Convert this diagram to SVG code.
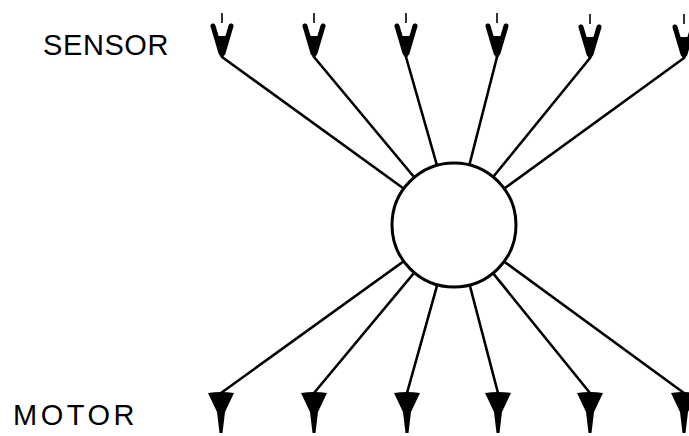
<svg xmlns="http://www.w3.org/2000/svg" width="689" height="436" viewBox="0 0 689 436">
<style>
.ln{stroke:#000;stroke-width:2.6;fill:none;stroke-linecap:round}
.arm{stroke:#000;stroke-width:5;fill:none;stroke-linecap:round}
.tick{stroke:#000;stroke-width:1.6}
.lbl{font-family:"Liberation Sans",Arial,sans-serif;font-size:29px;fill:#000}
</style>
<defs>
<g id="sensor">
<line class="tick" x1="0" y1="-44" x2="0" y2="-34"/>
<path class="arm" d="M-9,-31 L-1,-4 M9,-31 L1,-4"/>
<path d="M-7,-21 L7,-21 L1.5,0 L-1.5,0 Z" fill="#000"/>
</g>
<g id="motor">
<path d="M-13,0 Q0,-2 13,0 L4,19 L1.5,40 L-1.5,40 L-4,19 Z" fill="#000"/>
</g>
</defs>
<g id="connectors">
<line class="ln" x1="222" y1="57" x2="454" y2="225"/>
<line class="ln" x1="314" y1="57" x2="454" y2="225"/>
<line class="ln" x1="406" y1="57" x2="454" y2="225"/>
<line class="ln" x1="497" y1="57" x2="454" y2="225"/>
<line class="ln" x1="590" y1="58" x2="454" y2="225"/>
<line class="ln" x1="684" y1="58" x2="454" y2="225"/>
<line class="ln" x1="221" y1="393" x2="454" y2="225"/>
<line class="ln" x1="314" y1="393" x2="454" y2="225"/>
<line class="ln" x1="407" y1="393" x2="454" y2="225"/>
<line class="ln" x1="498" y1="393" x2="454" y2="225"/>
<line class="ln" x1="590" y1="393" x2="454" y2="225"/>
<line class="ln" x1="684" y1="393" x2="454" y2="225"/>
</g>
<g id="neuron">
<circle cx="454" cy="225" r="62" fill="#fff" stroke="#000" stroke-width="3"/>
</g>
<g id="sensors">
<use href="#sensor" x="222" y="57"/>
<use href="#sensor" x="314" y="57"/>
<use href="#sensor" x="406" y="57"/>
<use href="#sensor" x="497" y="57"/>
<use href="#sensor" x="590" y="58"/>
<use href="#sensor" x="684" y="58"/>
</g>
<g id="motors">
<use href="#motor" x="221" y="393"/>
<use href="#motor" x="314" y="393"/>
<use href="#motor" x="407" y="393"/>
<use href="#motor" x="498" y="393"/>
<use href="#motor" x="590" y="393"/>
<use href="#motor" x="684" y="393"/>
</g>
<g id="labels">
<text class="lbl" x="43" y="55" letter-spacing="0.6">SENSOR</text>
<text class="lbl" x="13" y="425" letter-spacing="3.5">MOTOR</text>
</g>
</svg>
